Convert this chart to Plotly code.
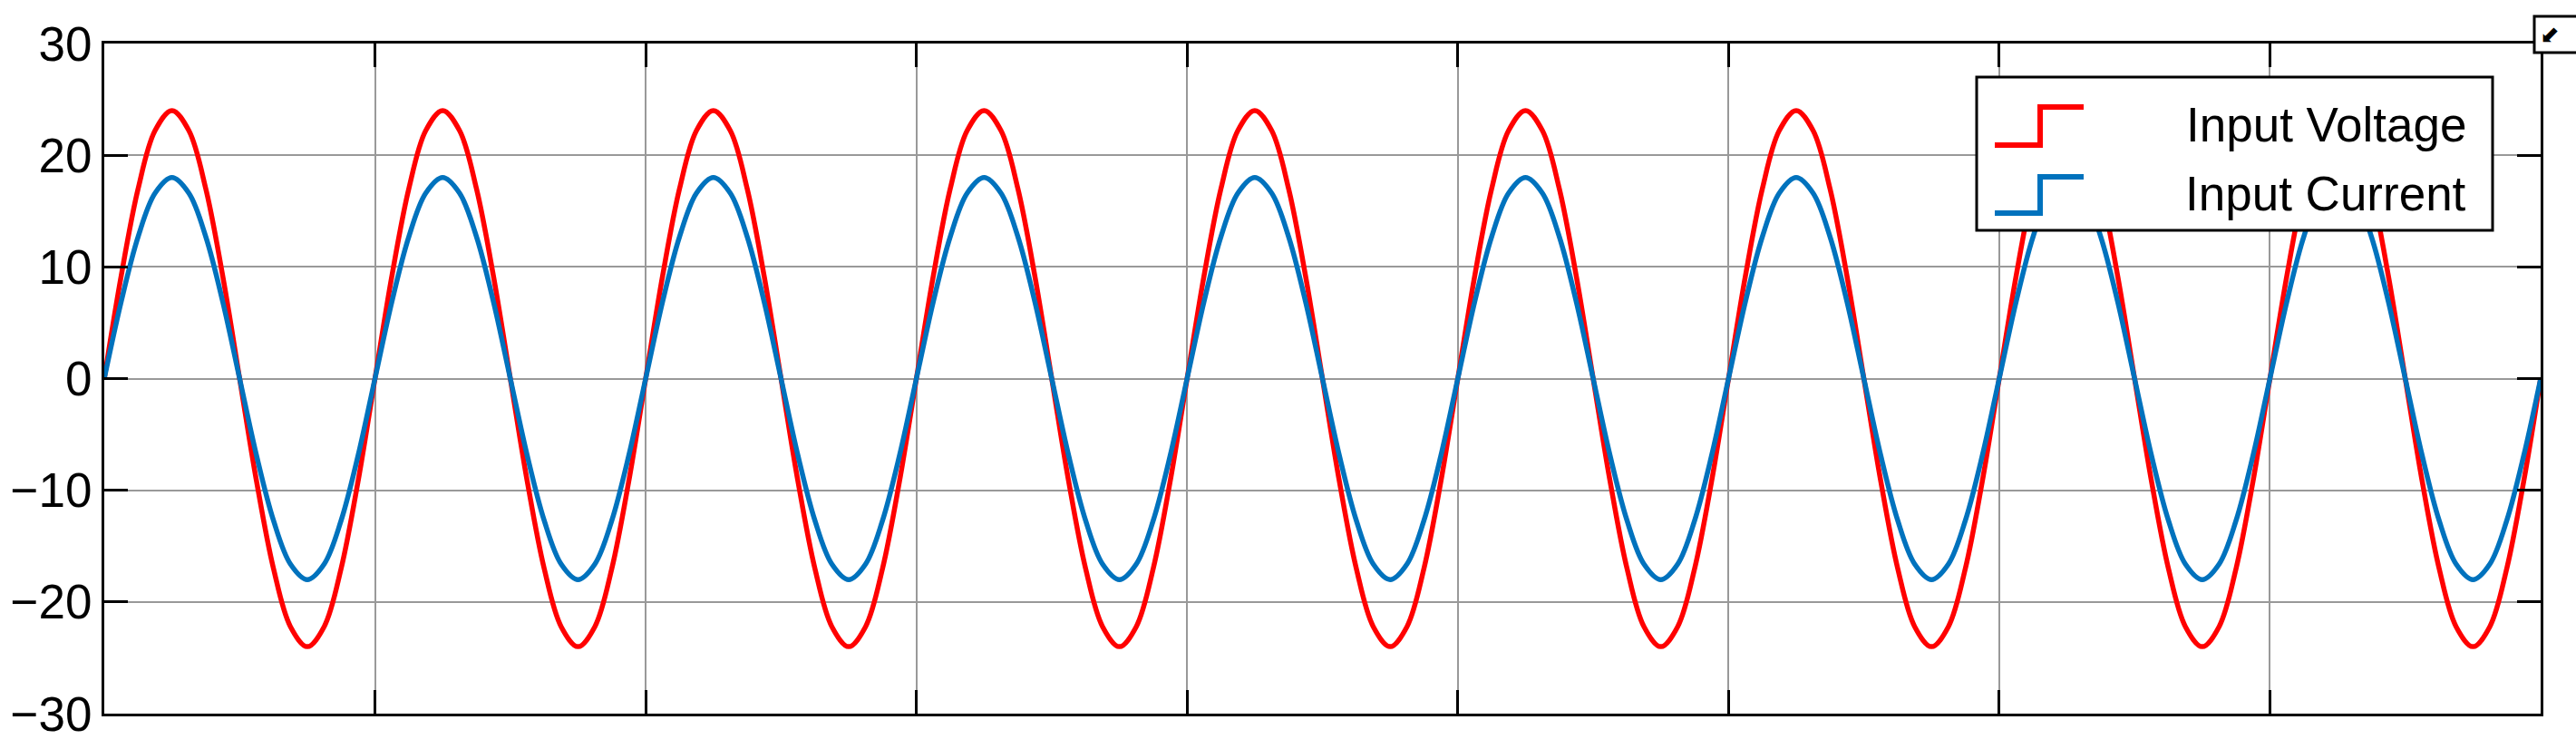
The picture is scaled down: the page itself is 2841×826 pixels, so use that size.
import plotly.graph_objects as go

# ---- data ----
time_ms = [
    0, 1.25, 2.5, 3.75, 5, 6.25, 7.5, 8.75, 10, 11.25, 12.5, 13.75, 15, 16.25, 17.5, 18.75,
    20, 21.25, 22.5, 23.75, 25, 26.25, 27.5, 28.75, 30, 31.25, 32.5, 33.75, 35, 36.25, 37.5, 38.75,
    40, 41.25, 42.5, 43.75, 45, 46.25, 47.5, 48.75, 50, 51.25, 52.5, 53.75, 55, 56.25, 57.5, 58.75,
    60, 61.25, 62.5, 63.75, 65, 66.25, 67.5, 68.75, 70, 71.25, 72.5, 73.75, 75, 76.25, 77.5, 78.75,
    80, 81.25, 82.5, 83.75, 85, 86.25, 87.5, 88.75, 90, 91.25, 92.5, 93.75, 95, 96.25, 97.5, 98.75,
    100, 101.25, 102.5, 103.75, 105, 106.25, 107.5, 108.75, 110, 111.25, 112.5, 113.75, 115, 116.25, 117.5, 118.75,
    120, 121.25, 122.5, 123.75, 125, 126.25, 127.5, 128.75, 130, 131.25, 132.5, 133.75, 135, 136.25, 137.5, 138.75,
    140, 141.25, 142.5, 143.75, 145, 146.25, 147.5, 148.75, 150, 151.25, 152.5, 153.75, 155, 156.25, 157.5, 158.75,
    160, 161.25, 162.5, 163.75, 165, 166.25, 167.5, 168.75, 170, 171.25, 172.5, 173.75, 175, 176.25, 177.5, 178.75,
    180,
]
input_voltage = [
    0, 9.2, 17, 22.2, 24, 22.2, 17, 9.2, 0, -9.2, -17, -22.2, -24, -22.2, -17, -9.2,
    0, 9.2, 17, 22.2, 24, 22.2, 17, 9.2, 0, -9.2, -17, -22.2, -24, -22.2, -17, -9.2,
    0, 9.2, 17, 22.2, 24, 22.2, 17, 9.2, 0, -9.2, -17, -22.2, -24, -22.2, -17, -9.2,
    0, 9.2, 17, 22.2, 24, 22.2, 17, 9.2, 0, -9.2, -17, -22.2, -24, -22.2, -17, -9.2,
    0, 9.2, 17, 22.2, 24, 22.2, 17, 9.2, 0, -9.2, -17, -22.2, -24, -22.2, -17, -9.2,
    0, 9.2, 17, 22.2, 24, 22.2, 17, 9.2, 0, -9.2, -17, -22.2, -24, -22.2, -17, -9.2,
    0, 9.2, 17, 22.2, 24, 22.2, 17, 9.2, 0, -9.2, -17, -22.2, -24, -22.2, -17, -9.2,
    0, 9.2, 17, 22.2, 24, 22.2, 17, 9.2, 0, -9.2, -17, -22.2, -24, -22.2, -17, -9.2,
    0, 9.2, 17, 22.2, 24, 22.2, 17, 9.2, 0, -9.2, -17, -22.2, -24, -22.2, -17, -9.2,
    0,
]
input_current = [
    0, 6.9, 12.7, 16.6, 18, 16.6, 12.7, 6.9, 0, -6.9, -12.7, -16.6, -18, -16.6, -12.7, -6.9,
    0, 6.9, 12.7, 16.6, 18, 16.6, 12.7, 6.9, 0, -6.9, -12.7, -16.6, -18, -16.6, -12.7, -6.9,
    0, 6.9, 12.7, 16.6, 18, 16.6, 12.7, 6.9, 0, -6.9, -12.7, -16.6, -18, -16.6, -12.7, -6.9,
    0, 6.9, 12.7, 16.6, 18, 16.6, 12.7, 6.9, 0, -6.9, -12.7, -16.6, -18, -16.6, -12.7, -6.9,
    0, 6.9, 12.7, 16.6, 18, 16.6, 12.7, 6.9, 0, -6.9, -12.7, -16.6, -18, -16.6, -12.7, -6.9,
    0, 6.9, 12.7, 16.6, 18, 16.6, 12.7, 6.9, 0, -6.9, -12.7, -16.6, -18, -16.6, -12.7, -6.9,
    0, 6.9, 12.7, 16.6, 18, 16.6, 12.7, 6.9, 0, -6.9, -12.7, -16.6, -18, -16.6, -12.7, -6.9,
    0, 6.9, 12.7, 16.6, 18, 16.6, 12.7, 6.9, 0, -6.9, -12.7, -16.6, -18, -16.6, -12.7, -6.9,
    0, 6.9, 12.7, 16.6, 18, 16.6, 12.7, 6.9, 0, -6.9, -12.7, -16.6, -18, -16.6, -12.7, -6.9,
    0,
]
series_names = ["Input Voltage", "Input Current"]
series_colors = ["#FF0000", "#0072BD"]
y_ticks = [-30, -20, -10, 0, 10, 20, 30]

# ---- layout geometry (pixels) ----
W, H = 2841, 826
L, R, T, B = 115, 39, 48, 39
PW, PH = W - L - R, H - T - B


def px(x):
    return (x - L) / PW


def py(y):
    return (H - B - y) / PH


FONT = "Liberation Sans, Arial, sans-serif"
FS = 53

fig = go.Figure()
for name, vals, col in zip(series_names, [input_voltage, input_current], series_colors):
    fig.add_trace(go.Scatter(
        x=time_ms, y=vals, name=name, mode="lines",
        line=dict(color=col, width=5.5, shape="spline", smoothing=1),
        showlegend=False,
    ))

fig.update_layout(
    width=W, height=H,
    margin=dict(l=L, r=R, t=T, b=B, pad=0, autoexpand=False),
    paper_bgcolor="white", plot_bgcolor="white",
    font=dict(family=FONT, size=FS, color="black"),
)
fig.update_xaxes(
    range=[0, 180], dtick=20, tick0=0, automargin=False,
    showticklabels=False,
    showgrid=True, gridcolor="#999999", gridwidth=2,
    zeroline=False,
    showline=True, linecolor="black", linewidth=3, mirror="ticks",
    ticks="inside", ticklen=26, tickwidth=3, tickcolor="black",
)
fig.update_yaxes(
    range=[-30, 30], tickvals=y_ticks, automargin=False,
    showgrid=True, gridcolor="#999999", gridwidth=2,
    zeroline=False,
    showline=True, linecolor="black", linewidth=3, mirror="ticks",
    ticks="inside", ticklen=26, tickwidth=3, tickcolor="black",
    ticklabelstandoff=0,
    tickfont=dict(family=FONT, size=FS, color="black"),
)

shapes = []
# legend box
shapes.append(dict(type="rect", xref="paper", yref="paper",
                   x0=px(2180), x1=px(2749), y0=py(254), y1=py(85),
                   line=dict(color="black", width=3), fillcolor="white", layer="above"))
# step symbols
for (ylo, yhi), col in zip([(160, 118), (235, 195)], series_colors):
    path = (f"M {px(2200)},{py(ylo)} L {px(2250)},{py(ylo)} "
            f"L {px(2250)},{py(yhi)} L {px(2298)},{py(yhi)}")
    shapes.append(dict(type="path", xref="paper", yref="paper", path=path,
                       line=dict(color=col, width=6), layer="above"))
# small corner box (top-right)
shapes.append(dict(type="rect", xref="paper", yref="paper",
                   x0=px(2795), x1=px(2850), y0=py(58), y1=py(18),
                   line=dict(color="black", width=3), fillcolor="white", layer="above"))
fig.update_layout(shapes=shapes)

annotations = []
for name, yc in zip(series_names, [138, 214]):
    annotations.append(dict(xref="paper", yref="paper", x=px(2722), y=py(yc),
                            xanchor="right", yanchor="middle", showarrow=False,
                            text=name, font=dict(family=FONT, size=FS, color="black")))
# glyph inside the corner box
annotations.append(dict(xref="paper", yref="paper", x=px(2812), y=py(38),
                        xanchor="center", yanchor="middle", showarrow=False,
                        text="⬋", font=dict(family="DejaVu Sans", size=26, color="black")))
fig.update_layout(annotations=annotations)

fig.write_html(
    "out.html",
    config={"displayModeBar": False},
    post_script="document.body.style.margin='0px';document.body.style.overflow='hidden';",
)
